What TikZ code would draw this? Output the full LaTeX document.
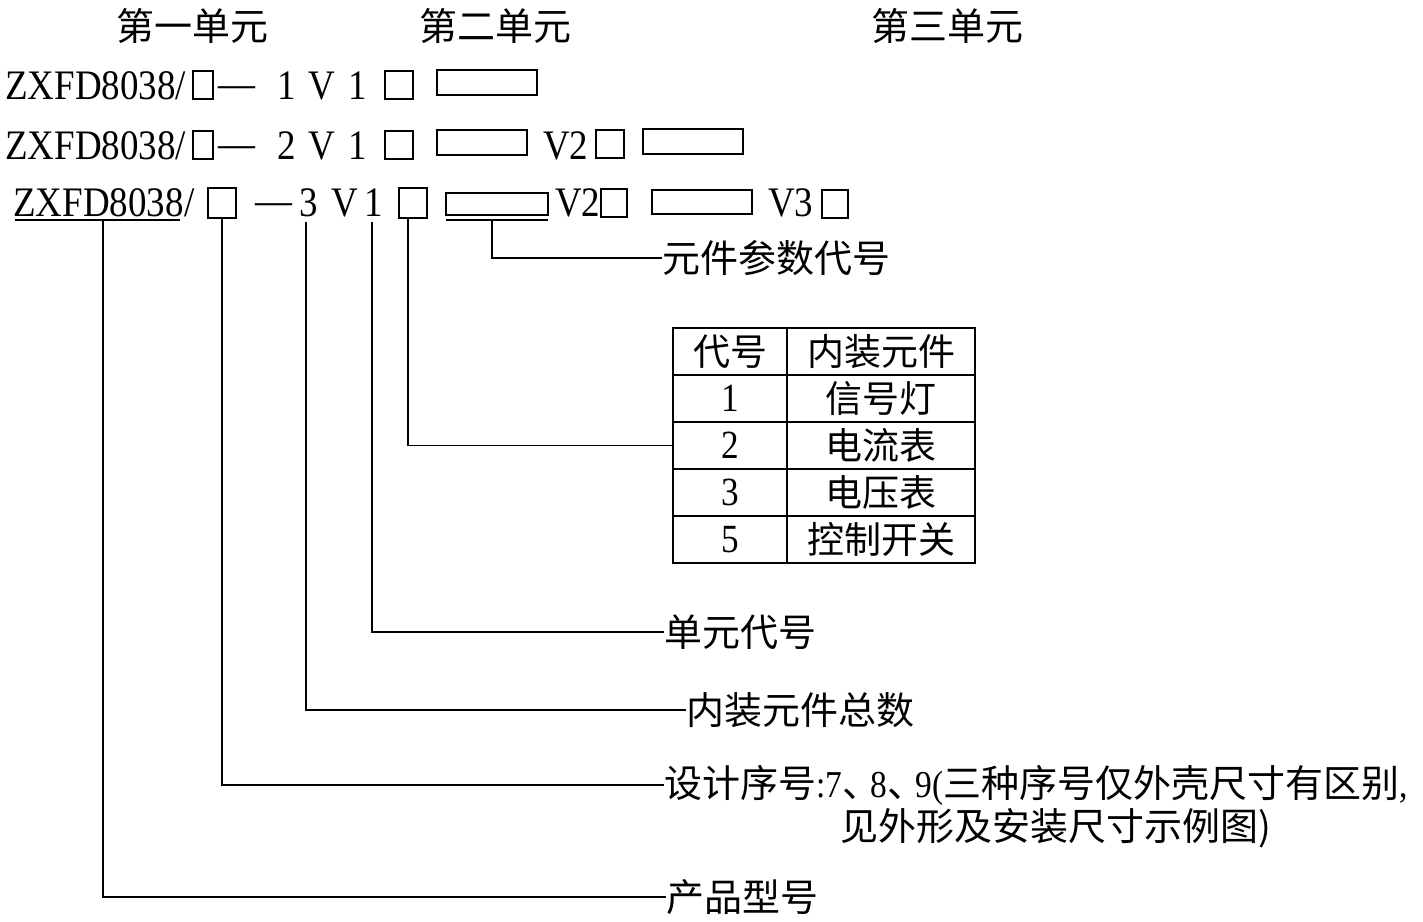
\documentclass[tikz,border=0pt]{standalone}
\usepackage{fontspec}
\setmainfont{Liberation Serif}
\newfontfamily\latn[FakeStretch=0.88]{Liberation Serif}
\newfontfamily\cjk{Noto Sans CJK SC}
\newcommand\dunhao{、\kern-0.25em}
\begin{document}
\begin{tikzpicture}[x=1pt,y=-1pt,
  lat/.style={font=\fontsize{42}{44}\selectfont\latn, inner sep=0pt, anchor=base west},
  latc/.style={font=\fontsize{42}{44}\selectfont\latn, inner sep=0pt, anchor=base},
  zh/.style={font=\fontsize{38}{44}\selectfont\cjk, inner sep=0pt},
  sbox/.style={draw, line width=2pt, inner sep=0pt},
  conn/.style={line width=1.5pt},
  cell/.style={draw, line width=2pt, inner sep=0pt, minimum height=47pt},
  ccol/.style={cell, minimum width=114pt, font=\fontsize{40}{42}\selectfont\latn},
  zcol/.style={cell, minimum width=188pt, font=\fontsize{37}{40}\selectfont\cjk},
]
\useasboundingbox (0,0) rectangle (1423,921);
% headers
\node[zh] (h1) at (192,26) {第一单元};
\node[zh] (h2) at (495,26) {第二单元};
\node[zh] (h3) at (947,26) {第三单元};
% line 1
\node[lat] (z1) at (5,99) {ZXFD8038/};
\node[sbox, minimum width=20pt, minimum height=28pt] (b11) at (203,85) {};
\node[lat] (d1) at (218,97) {—};
\node[latc] (n11) at (287,99) {1};
\node[latc] (v11) at (322,99) {V};
\node[latc] (u11) at (358,99) {1};
\node[sbox, minimum width=28pt, minimum height=28pt] (b12) at (399,85) {};
\node[sbox, minimum width=100pt, minimum height=25pt] (r11) at (487,82.5) {};
% line 2
\node[lat] (z2) at (5,159) {ZXFD8038/};
\node[sbox, minimum width=20pt, minimum height=28pt] (b21) at (203,145) {};
\node[lat] (d2) at (218,157) {—};
\node[latc] (n21) at (287,159) {2};
\node[latc] (v21) at (322,159) {V};
\node[latc] (u21) at (358,159) {1};
\node[sbox, minimum width=28pt, minimum height=28pt] (b22) at (399,145) {};
\node[sbox, minimum width=90pt, minimum height=25pt] (r21) at (482,142) {};
\node[lat] (v22) at (543,159) {V2};
\node[sbox, minimum width=28pt, minimum height=28pt] (b23) at (610,144) {};
\node[sbox, minimum width=100pt, minimum height=25pt] (r22) at (693,141) {};
% line 3
\node[lat] (z3) at (13,216) {ZXFD8038};
\draw[line width=1.5pt] (15,220) -- (180,220);
\node[lat] (s3) at (184,216) {/};
\node[sbox, minimum width=28pt, minimum height=30pt] (b31) at (222,203) {};
\node[latc] (d3) at (274,214) {—};
\node[latc] (n31) at (309,216) {3};
\node[latc] (v31) at (345,216) {V};
\node[latc] (u31) at (374,216) {1};
\node[sbox, minimum width=28pt, minimum height=30pt] (b32) at (413,203) {};
\node[sbox, minimum width=102pt, minimum height=22pt] (r31) at (497,204) {};
\draw[line width=1.5pt] (446,220) -- (548,220);
\node[lat] (v32) at (555,216) {V2};
\node[sbox, minimum width=26pt, minimum height=28pt] (b33) at (614,203) {};
\node[sbox, minimum width=100pt, minimum height=24pt] (r32) at (702,202) {};
\node[lat] (v33) at (768,216) {V3};
\node[sbox, minimum width=26pt, minimum height=28pt] (b34) at (835,204) {};
% table
\node[ccol] (c0a) at (730,351.5) {\cjk\fontsize{37}{40}\selectfont 代号};
\node[zcol] (c0b) at (881,351.5) {内装元件};
\node[ccol] (c1a) at (730,398.5) {1};
\node[zcol] (c1b) at (881,398.5) {信号灯};
\node[ccol] (c2a) at (730,445.5) {2};
\node[zcol] (c2b) at (881,445.5) {电流表};
\node[ccol] (c3a) at (730,492.5) {3};
\node[zcol] (c3b) at (881,492.5) {电压表};
\node[ccol] (c5a) at (730,539.5) {5};
\node[zcol] (c5b) at (881,539.5) {控制开关};
% labels
\node[zh, anchor=west] (param) at (662,258) {元件参数代号};
\node[zh, anchor=west] (unit) at (664,632) {单元代号};
\node[zh, anchor=west] (total) at (686,710) {内装元件总数};
\node[zh, anchor=west] (des1) at (664,785) {设计序号{\latn :7}\dunhao{\latn 8}\dunhao{\latn 9(}三种序号仅外壳尺寸有区别{\latn ,}};
\node[zh, anchor=west] (des2) at (840,828) {见外形及安装尺寸示例图)};
\node[zh, anchor=west] (prod) at (666,897) {产品型号};
% connector origins
\coordinate (zc) at (103,221);
\coordinate (n3c) at (306,222);
\coordinate (u3c) at (372,222);
\coordinate (rc) at (492,221);
% connectors
\draw[conn] (zc) |- (prod.west);
\draw[conn] (b31.south) |- (des1.west);
\draw[conn] (n3c) |- (total.west);
\draw[conn] (u3c) |- (unit.west);
\draw[conn] ([xshift=-5pt]b32.south) |- (c2a.west);
\draw[conn] (rc) |- (param.west);
\end{tikzpicture}
\end{document}
